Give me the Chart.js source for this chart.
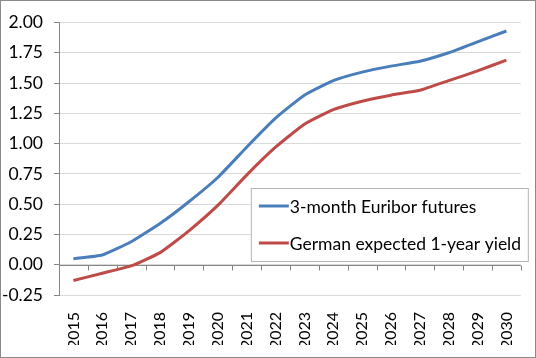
<!DOCTYPE html>
<html lang="en">
<head>
    <meta charset="UTF-8">
    <title>Euribor vs German yield</title>
    <script src="https://cdn.jsdelivr.net/npm/chart.js"></script>
    <style>
        html, body { margin: 0; padding: 0; background: #fff; }
        #wrap { position: relative; width: 536px; height: 358px; box-sizing: border-box; border: 1px solid #8a8a8a; }
    </style>
</head>
<body>
    <div id="wrap">
        <canvas id="ratesChart"></canvas>
    </div>

    <script>
        // Years on the x axis
        const years = ['2015', '2016', '2017', '2018', '2019', '2020', '2021', '2022',
                       '2023', '2024', '2025', '2026', '2027', '2028', '2029', '2030'];
        // 3-month Euribor futures (%)
        const euribor = [0.05, 0.08, 0.19, 0.34, 0.52, 0.72, 0.97, 1.21,
                         1.40, 1.52, 1.59, 1.64, 1.68, 1.75, 1.84, 1.93];
        // German expected 1-year yield (%)
        const germanYield = [-0.13, -0.07, -0.01, 0.10, 0.28, 0.49, 0.74, 0.97,
                             1.16, 1.28, 1.35, 1.40, 1.44, 1.52, 1.60, 1.69];
        const yTicks = [-0.25, 0, 0.25, 0.5, 0.75, 1, 1.25, 1.5, 1.75, 2];

        const fontFamily = 'Lato, "Open Sans", sans-serif';

        // zero axis line with category tick marks
        const zeroAxis = {
            id: 'zeroAxis',
            beforeDatasetsDraw(chart) {
                const ctx = chart.ctx;
                const x = chart.scales.x, y = chart.scales.y;
                const y0 = Math.round(y.getPixelForValue(0)) + 0.5;
                ctx.save();
                ctx.strokeStyle = '#868686';
                ctx.lineWidth = 1;
                ctx.beginPath();
                ctx.moveTo(chart.chartArea.left, y0);
                ctx.lineTo(chart.chartArea.right, y0);
                for (let i = 0; i <= years.length; i++) {
                    const px = Math.round(x.getPixelForValue(i - 0.5)) + 0.5;
                    ctx.moveTo(px, y0);
                    ctx.lineTo(px, y0 + 5);
                }
                ctx.stroke();
                ctx.restore();
            }
        };

        // boxed legend inside the plot, lower right
        const boxLegend = {
            id: 'boxLegend',
            afterDraw(chart) {
                const ctx = chart.ctx;
                const area = chart.chartArea;
                const bx = area.right - 270, by = 187, bw = 277, bh = 73;
                ctx.save();
                ctx.fillStyle = '#fff';
                ctx.fillRect(bx, by, bw, bh);
                ctx.strokeStyle = '#b3b3b3';
                ctx.lineWidth = 1;
                ctx.strokeRect(bx + 0.5, by + 0.5, bw, bh);
                ctx.font = '17.5px ' + fontFamily;
                ctx.textBaseline = 'middle';
                chart.data.datasets.forEach(function (ds, i) {
                    const ly = by + 18 + i * 37;
                    ctx.strokeStyle = ds.borderColor;
                    ctx.lineWidth = 3;
                    ctx.beginPath();
                    ctx.moveTo(bx + 8, ly);
                    ctx.lineTo(bx + 38, ly);
                    ctx.stroke();
                    ctx.fillStyle = '#000';
                    ctx.fillText(ds.label, bx + 39, ly + 1);
                });
                ctx.restore();
            }
        };

        const ctx = document.getElementById('ratesChart').getContext('2d');
        const chart = new Chart(ctx, {
            type: 'line',
            data: {
                labels: years,
                datasets: [
                    {
                        label: '3-month Euribor futures',
                        data: euribor,
                        borderColor: '#4a7ebb',
                        borderWidth: 3,
                        pointRadius: 0,
                        tension: 0.15
                    },
                    {
                        label: 'German expected 1-year yield',
                        data: germanYield,
                        borderColor: '#be4b48',
                        borderWidth: 3,
                        pointRadius: 0,
                        tension: 0.15
                    }
                ]
            },
            options: {
                responsive: true,
                maintainAspectRatio: false,
                animation: false,
                layout: { padding: { left: 0, right: 13, top: 20, bottom: 12 } },
                plugins: {
                    legend: { display: false },
                    tooltip: { enabled: false }
                },
                scales: {
                    x: {
                        offset: true,
                        grid: { display: false },
                        border: { display: false },
                        ticks: {
                            minRotation: 90,
                            maxRotation: 90,
                            autoSkip: false,
                            padding: 9,
                            color: '#000',
                            font: { family: fontFamily, size: 16 }
                        },
                        afterFit(scale) { scale.height = 50; }
                    },
                    y: {
                        min: -0.25,
                        max: 2,
                        afterBuildTicks(scale) {
                            scale.ticks = yTicks.map(v => ({ value: v }));
                        },
                        grid: { color: '#d9d9d9', tickColor: '#868686', tickLength: 5 },
                        border: { color: '#868686' },
                        ticks: {
                            padding: 11,
                            color: '#000',
                            font: { family: fontFamily, size: 17.5 },
                            callback: v => v.toFixed(2)
                        },
                        afterFit(scale) { scale.width = 58; }
                    }
                }
            },
            plugins: [zeroAxis, boxLegend]
        });
    </script>
</body>
</html>
